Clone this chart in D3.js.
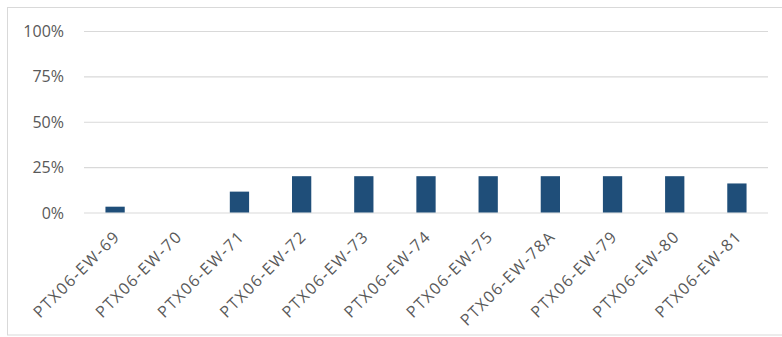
<!DOCTYPE html>
<html><head><meta charset="utf-8">
<script src="https://cdn.jsdelivr.net/npm/d3@7"></script>
<style>body{margin:0;background:#fff}svg{display:block}</style>
</head><body><svg id="c" width="782" height="337"></svg>
<script>
const categories = ["PTX06-EW-69","PTX06-EW-70","PTX06-EW-71","PTX06-EW-72","PTX06-EW-73","PTX06-EW-74","PTX06-EW-75","PTX06-EW-78A","PTX06-EW-79","PTX06-EW-80","PTX06-EW-81"];
const values = [0.032, 0, 0.115, 0.20, 0.20, 0.20, 0.20, 0.20, 0.20, 0.20, 0.16];
const yTicks = [0, 0.25, 0.5, 0.75, 1];

const svg = d3.select("#c");
svg.append("rect").attr("x",7.5).attr("y",7.5).attr("width",790).attr("height",327.5)
  .attr("fill","#fff").attr("stroke","#d9d9d9");

const x = d3.scaleBand().domain(categories).range([84, 768]).paddingInner(0.69).paddingOuter(0.345);
const y = d3.scaleLinear().domain([0,1]).range([212.5, 31]);
const font = "'Open Sans', sans-serif";

const ya = svg.append("g").attr("transform","translate(84,0)")
  .call(d3.axisLeft(y).tickValues(yTicks).tickFormat(d3.format(".0%")).tickSize(-684).tickPadding(20));
ya.select(".domain").remove();
ya.selectAll(".tick line").attr("stroke","#d9d9d9").attr("stroke-width",1.2);
ya.selectAll(".tick text").attr("fill","#595959").attr("dy","0.35em")
  .style("font-family",font).style("font-size","16px");

svg.append("g").selectAll("rect").data(values).join("rect")
  .attr("x",(d,i)=>x(categories[i])).attr("width",x.bandwidth())
  .attr("y",d=>y(d)).attr("height",d=>y(0)-y(d)).attr("fill","#1f4e79");

const xa = svg.append("g").attr("transform","translate(0,212.5)")
  .call(d3.axisBottom(x).tickSize(0).tickPadding(0));
xa.select(".domain").remove();
xa.selectAll(".tick text").attr("fill","#595959")
  .style("font-family",font).style("font-size","16px").style("letter-spacing","1.5px")
  .attr("text-anchor","end").attr("dy",null).attr("y",null)
  .attr("transform","translate(6,25) rotate(-45)");
</script></body></html>
